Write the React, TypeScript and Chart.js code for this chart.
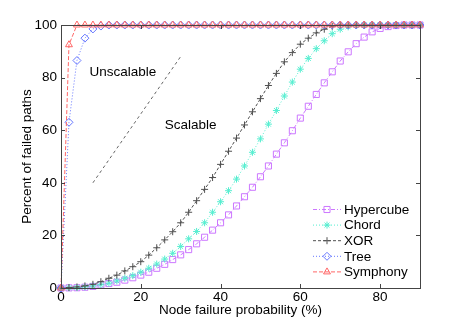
import React, { useEffect, useRef } from 'react';
import { Chart, registerables } from 'chart.js';

Chart.register(...registerables);

const xValues = [0, 2, 4, 6, 8, 10, 12, 14, 16, 18, 20, 22, 24, 26, 28, 30, 32, 34, 36, 38, 40, 42, 44, 46, 48, 50, 52, 54, 56, 58, 60, 62, 64, 66, 68, 70, 72, 74, 76, 78, 80, 82, 84, 86, 88, 90];

const hypercube = [0, 0.05, 0.1, 0.3, 0.6, 1.2, 1.7, 2.2, 3, 3.9, 4.9, 6, 7.5, 9, 10.8, 12.6, 14.6, 16.8, 19.3, 22, 24.8, 27.8, 31.2, 34.7, 38.3, 42.3, 46.4, 50.9, 55.2, 59.8, 64.6, 69.1, 73.6, 78, 82.2, 86.3, 89.8, 92.9, 95.4, 97.4, 98.7, 99.4, 99.8, 100, 100, 100];
const chord = [0, 0.1, 0.2, 0.4, 0.8, 1.3, 1.8, 2.7, 3.7, 4.7, 6, 7.5, 9.1, 11, 13.2, 15.8, 18.7, 21.5, 24.8, 28.8, 32.8, 37, 41.4, 46.4, 51.6, 56.7, 62.3, 67.5, 73, 78.3, 83.2, 87.3, 91, 94, 96.7, 98.4, 99.3, 99.8, 100, 100, 100, 100, 100, 100, 100, 100];
const xor = [0, 0.2, 0.4, 0.8, 1.4, 2.4, 3.7, 4.9, 6.5, 8.1, 10, 12.5, 15.3, 18.3, 21.4, 24.8, 28.8, 33.2, 37.5, 42, 47, 52, 57, 62, 67, 72, 77, 81.6, 86, 89.5, 92.7, 95, 97, 98.4, 99.5, 100, 100, 100, 100, 100, 100, 100, 100, 100, 100, 100];
const tree = [0, 63, 86.5, 95, 98.5, 99.6, 100, 100, 100, 100, 100, 100, 100, 100, 100, 100, 100, 100, 100, 100, 100, 100, 100, 100, 100, 100, 100, 100, 100, 100, 100, 100, 100, 100, 100, 100, 100, 100, 100, 100, 100, 100, 100, 100, 100, 100];
const symphony = [0, 92.5, 100, 100, 100, 100, 100, 100, 100, 100, 100, 100, 100, 100, 100, 100, 100, 100, 100, 100, 100, 100, 100, 100, 100, 100, 100, 100, 100, 100, 100, 100, 100, 100, 100, 100, 100, 100, 100, 100, 100, 100, 100, 100, 100, 100];

const annotLineX = [8, 30];
const annotLineY = [40, 88];

const annotTexts = ['Unscalable', 'Scalable'];
const annotTextX = [15.5, 32.5];
const annotTextY = [82, 62];

const xTicks = [0, 20, 40, 60, 80];
const yTicks = [0, 20, 40, 60, 80, 100];

const seriesNames = ['Hypercube', 'Chord', 'XOR', 'Tree', 'Symphony'];

const FONT = '"Liberation Sans", Arial, Helvetica, sans-serif';
const FS = 13.5;

type Sty = { color: string; dash: number[]; shape: string; r: number };
const styles: Sty[] = [
  { color: '#cc77ff', dash: [4, 2, 1, 2], shape: 'rect', r: 4.3 },
  { color: '#55eed0', dash: [1, 2], shape: 'star', r: 3.5 },
  { color: '#505050', dash: [3, 2], shape: 'cross', r: 3.5 },
  { color: '#6677ff', dash: [1, 2], shape: 'rectRot', r: 4 },
  { color: '#ff6666', dash: [4, 2], shape: 'triangle', r: 4 },
];

function drawMarker(ctx: CanvasRenderingContext2D, shape: string, x: number, y: number, r: number) {
  ctx.beginPath();
  if (shape === 'rect') {
    const s = Math.SQRT1_2 * r;
    ctx.rect(x - s, y - s, 2 * s, 2 * s);
  } else if (shape === 'rectRot') {
    ctx.moveTo(x - r, y);
    ctx.lineTo(x, y - r);
    ctx.lineTo(x + r, y);
    ctx.lineTo(x, y + r);
    ctx.closePath();
  } else if (shape === 'triangle') {
    let a = 0;
    ctx.moveTo(x + Math.sin(a) * r, y - Math.cos(a) * r);
    a += (2 * Math.PI) / 3;
    ctx.lineTo(x + Math.sin(a) * r, y - Math.cos(a) * r);
    a += (2 * Math.PI) / 3;
    ctx.lineTo(x + Math.sin(a) * r, y - Math.cos(a) * r);
    ctx.closePath();
  } else if (shape === 'cross') {
    ctx.moveTo(x - r, y);
    ctx.lineTo(x + r, y);
    ctx.moveTo(x, y - r);
    ctx.lineTo(x, y + r);
  } else if (shape === 'star') {
    ctx.moveTo(x - r, y);
    ctx.lineTo(x + r, y);
    ctx.moveTo(x, y - r);
    ctx.lineTo(x, y + r);
    const d = r * Math.SQRT1_2;
    ctx.moveTo(x - d, y - d);
    ctx.lineTo(x + d, y + d);
    ctx.moveTo(x - d, y + d);
    ctx.lineTo(x + d, y - d);
  }
  ctx.stroke();
}

export default function App() {
  const ref = useRef<HTMLCanvasElement>(null);

  useEffect(() => {
    document.body.style.margin = '0';
    const canvas = ref.current!;
    const pts = (ys: number[]) => ys.map((y, i) => ({ x: xValues[i], y }));
    const allSeries = [hypercube, chord, xor, tree, symphony];

    const datasets: any[] = allSeries.map((ys, i) => ({
      label: seriesNames[i],
      data: pts(ys),
      borderColor: styles[i].color,
      backgroundColor: 'rgba(0,0,0,0)',
      borderWidth: 1,
      borderDash: styles[i].dash,
      pointStyle: styles[i].shape,
      pointRadius: styles[i].r,
      pointBorderWidth: 1,
      pointBorderColor: styles[i].color,
      pointBackgroundColor: 'rgba(0,0,0,0)',
      tension: 0,
      clip: false,
      order: 4 - i,
    }));

    datasets.push({
      label: 'annot',
      data: annotLineX.map((x, i) => ({ x, y: annotLineY[i] })),
      borderColor: '#666666',
      borderWidth: 1,
      borderDash: [3, 3],
      pointRadius: 0,
      clip: false,
      order: 10,
    });

    const overlay = {
      id: 'overlay',
      afterDraw(chart: any) {
        const { ctx, chartArea: ca, scales } = chart;
        const xs = scales.x;
        const ys = scales.y;
        ctx.save();
        ctx.setLineDash([]);
        ctx.strokeStyle = '#444444';
        ctx.lineWidth = 1;
        ctx.strokeRect(Math.round(ca.left) + 0.5, Math.round(ca.top) + 0.5, Math.round(ca.right - ca.left), Math.round(ca.bottom - ca.top));
        const tl = 4;
        ctx.beginPath();
        xTicks.forEach((v) => {
          const px = Math.round(xs.getPixelForValue(v)) + 0.5;
          ctx.moveTo(px, ca.bottom);
          ctx.lineTo(px, ca.bottom - tl);
          ctx.moveTo(px, ca.top);
          ctx.lineTo(px, ca.top + tl);
        });
        yTicks.forEach((v) => {
          const py = Math.round(ys.getPixelForValue(v)) + 0.5;
          ctx.moveTo(ca.left, py);
          ctx.lineTo(ca.left + tl, py);
          ctx.moveTo(ca.right, py);
          ctx.lineTo(ca.right - tl, py);
        });
        ctx.stroke();

        ctx.fillStyle = '#000000';
        ctx.font = `${FS}px ${FONT}`;
        ctx.textAlign = 'center';
        ctx.textBaseline = 'middle';
        annotTexts.forEach((t, i) => {
          ctx.fillText(t, xs.getPixelForValue(annotTextX[i]), ys.getPixelForValue(annotTextY[i]));
        });

        const lx0 = 313;
        const lx1 = 341;
        const ly0 = 209.5;
        const step = 15.6;
        seriesNames.forEach((name, i) => {
          const y = ly0 + i * step;
          const s = styles[i];
          ctx.strokeStyle = s.color;
          ctx.lineWidth = 1;
          ctx.setLineDash(s.dash);
          ctx.beginPath();
          ctx.moveTo(lx0, y);
          ctx.lineTo(lx1, y);
          ctx.stroke();
          ctx.setLineDash([]);
          drawMarker(ctx, s.shape, (lx0 + lx1) / 2, y, s.r);
          ctx.fillStyle = '#000000';
          ctx.textAlign = 'left';
          ctx.textBaseline = 'middle';
          ctx.fillText(name, 344, y + 0.5);
        });
        ctx.restore();
      },
    };

    const chart = new Chart(canvas, {
      type: 'line',
      data: { datasets },
      options: {
        animation: false,
        responsive: false,
        layout: { padding: { top: 25, right: 44, left: 0, bottom: 0 } },
        plugins: { legend: { display: false }, tooltip: { enabled: false } },
        scales: {
          x: {
            type: 'linear',
            min: 0,
            max: 90,
            afterFit: (s: any) => { s.height = 36; },
            afterBuildTicks: (s: any) => { s.ticks = xTicks.map((v) => ({ value: v })); },
            grid: { display: false, drawTicks: false, tickLength: 0 },
            border: { display: false },
            ticks: { color: '#000', font: { family: FONT, size: FS }, padding: 1, maxRotation: 0, autoSkip: false },
            title: { display: true, text: 'Node failure probability (%)', color: '#000', font: { family: FONT, size: FS }, padding: { top: 0, bottom: 6 } },
          },
          y: {
            type: 'linear',
            min: 0,
            max: 100,
            afterFit: (s: any) => { s.width = 61; },
            afterBuildTicks: (s: any) => { s.ticks = yTicks.map((v) => ({ value: v })); },
            grid: { display: false, drawTicks: false, tickLength: 0 },
            border: { display: false },
            ticks: { color: '#000', font: { family: FONT, size: FS }, padding: 4, autoSkip: false },
            title: { display: true, text: 'Percent of failed paths', color: '#000', font: { family: FONT, size: FS }, padding: { top: 19, bottom: 0 } },
          },
        },
      },
      plugins: [overlay],
    });
    return () => chart.destroy();
  }, []);

  return (
    <div style={{ width: 464, height: 324, background: '#fff' }}>
      <canvas ref={ref} width={464} height={324} style={{ display: 'block' }} />
    </div>
  );
}
